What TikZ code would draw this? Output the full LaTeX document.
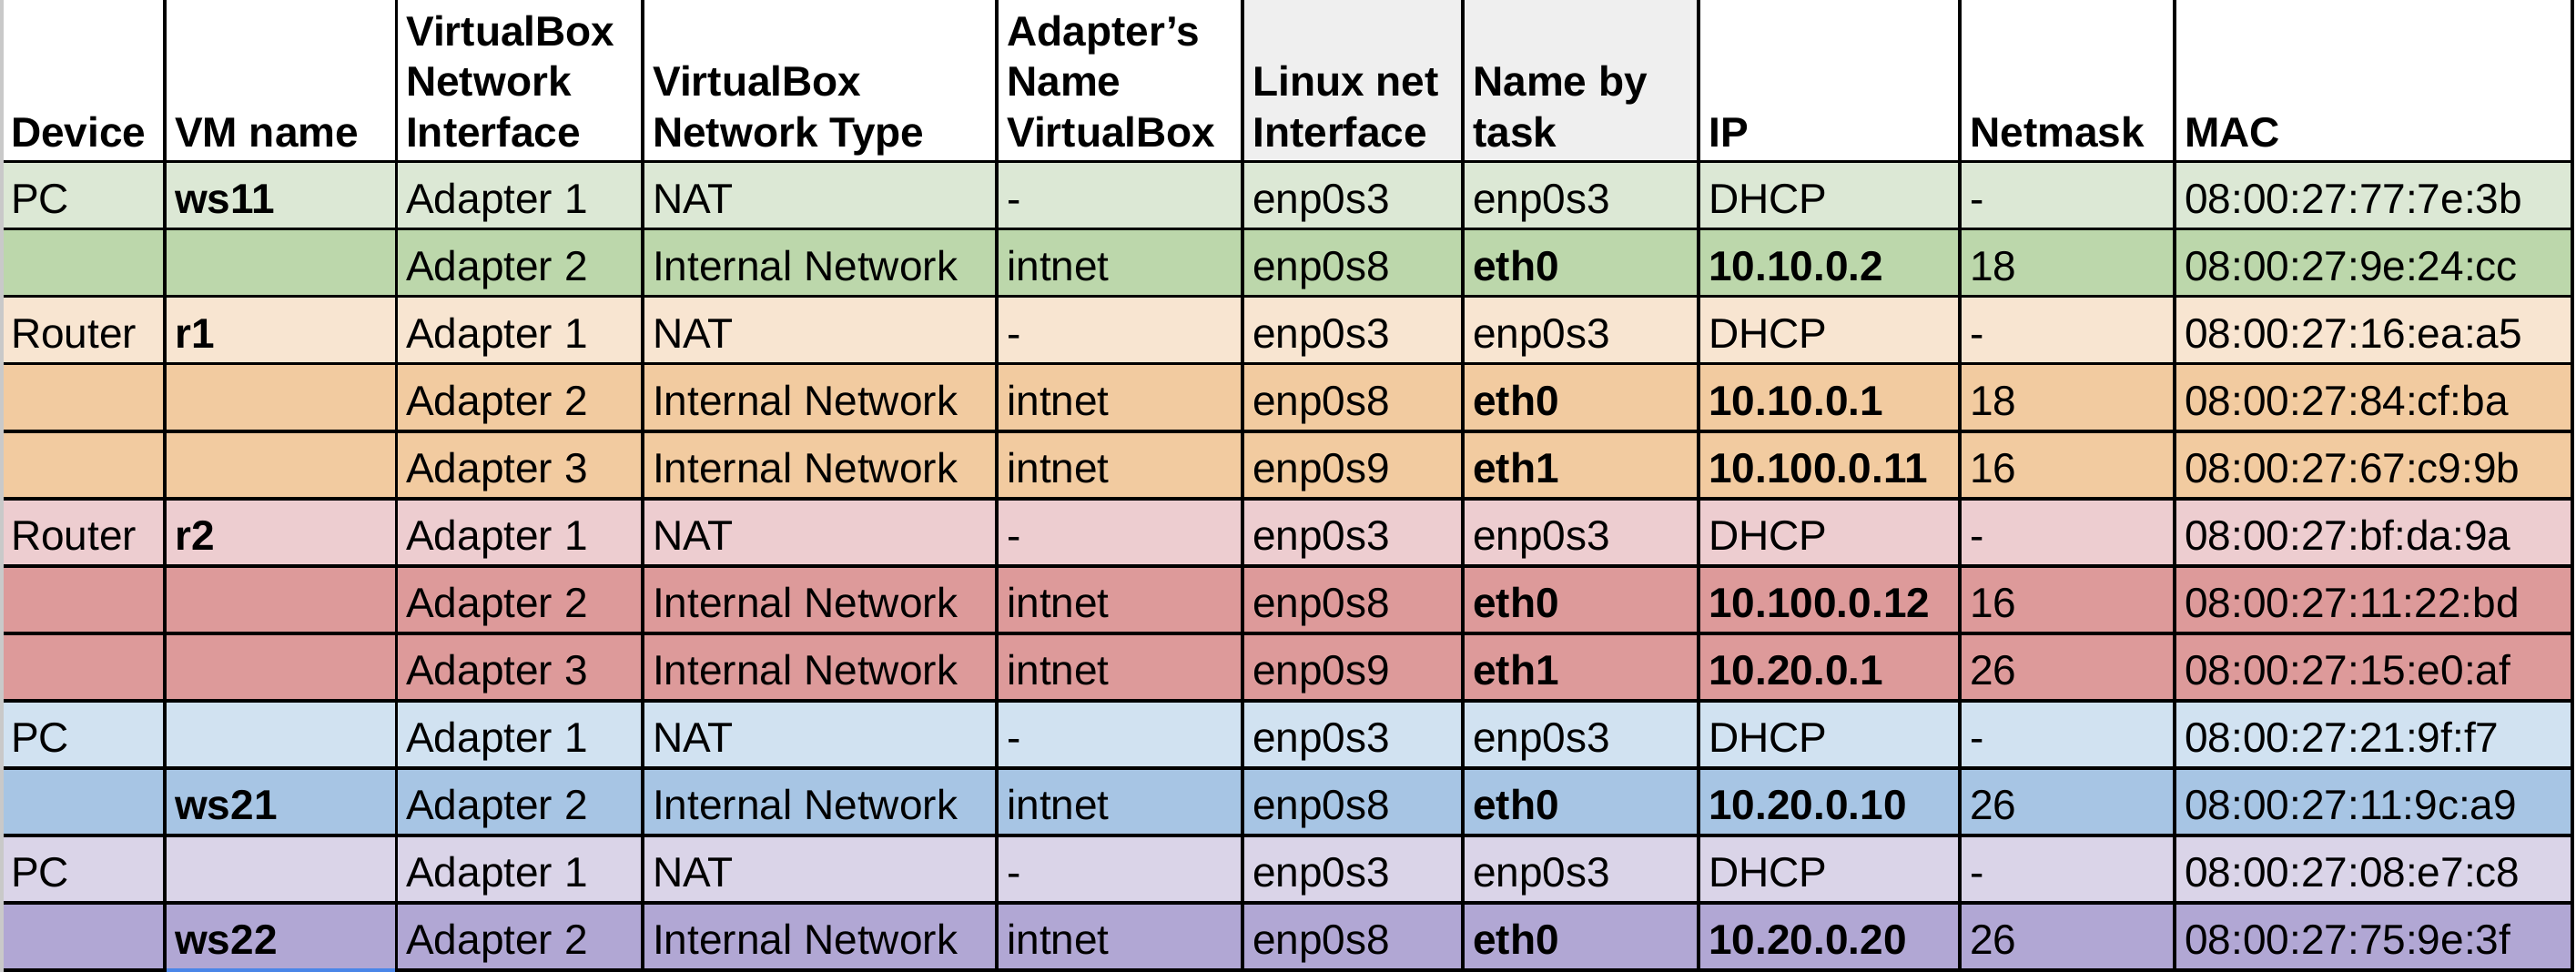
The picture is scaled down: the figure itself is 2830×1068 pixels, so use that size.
\documentclass[tikz,border=0pt]{standalone}
\usepackage{fontspec}
\setmainfont{Liberation Sans}
\definecolor{gL}{HTML}{DCE8D5}
\definecolor{gD}{HTML}{BCD7AB}
\definecolor{oL}{HTML}{F8E5D1}
\definecolor{oD}{HTML}{F2CBA0}
\definecolor{rL}{HTML}{EDCDD0}
\definecolor{rD}{HTML}{DD9A9A}
\definecolor{bL}{HTML}{D1E2F1}
\definecolor{bD}{HTML}{A7C5E4}
\definecolor{pL}{HTML}{DAD4E8}
\definecolor{pD}{HTML}{B1A7D4}
\definecolor{hdrgray}{HTML}{EFEFEF}
\definecolor{stripgray}{HTML}{C9C9C9}
\definecolor{selblue}{HTML}{4A86E8}
\newcommand\cellt[4]{\node[txt] (#1) at (#2,{177.7+74.03*#3-17.5}) {#4};}
\newcommand\hdrstack[1]{\bfseries\begin{tabular}[b]{@{}l@{}}#1\end{tabular}}
\begin{document}
\begin{tikzpicture}[x=1pt,y=-1pt,
  txt/.style={anchor=base west, inner sep=0pt, font=\fontsize{46}{55.5}\selectfont},
  hgrid/.style={line width=3.4pt, black},
  vgrid/.style={line width=3.9pt, black}]
\useasboundingbox (0,0) rectangle (2830,1068);
\fill[white] (0,0) rectangle (2830,1068);
% header gray
\fill[hdrgray] (1365,0) rectangle (1866,177.7);
% row fills
\foreach \i/\c in {1/gL,2/gD,3/oL,4/oD,5/oD,6/rL,7/rD,8/rD,9/bL,10/bD,11/pL,12/pD}
  \fill[\c] (4,{177.7+74.03*(\i-1)}) rectangle (2826,{177.7+74.03*\i});
% left strip
\fill[stripgray] (0,0) rectangle (4,1068);
% grid
\foreach \i in {0,...,12}
  \draw[hgrid] (4,{177.7+74.03*\i}) -- (2828,{177.7+74.03*\i});
\foreach \x in {181,435.5,706,1095,1365,1607,1866,2153,2389,2826}
  \draw[vgrid] (\x,0) -- (\x,1068);
\draw[line width=3.4pt, selblue] (183,1066.06) -- (433.5,1066.06);
% header
\node[txt] (hA) at (12,161) {\textbf{Device}};
\node[txt] (hB) at (192,161) {\textbf{VM name}};
\node[txt] (hC) at (446,161) {\hdrstack{VirtualBox\\Network\\Interface}};
\node[txt] (hD) at (717,161) {\hdrstack{VirtualBox\\Network Type}};
\node[txt] (hE) at (1106,161) {\hdrstack{Adapter’s\\Name\\VirtualBox}};
\node[txt] (hF) at (1376,161) {\hdrstack{Linux net\\Interface}};
\node[txt] (hG) at (1618,161) {\hdrstack{Name by\\task}};
\node[txt] (hH) at (1877,161) {\textbf{IP}};
\node[txt] (hI) at (2164,161) {\textbf{Netmask}};
\node[txt] (hJ) at (2400,161) {\textbf{MAC}};
% row 1
\cellt{r1a}{12}{1}{PC}
\cellt{r1b}{192}{1}{\textbf{ws11}}
\cellt{r1c}{446}{1}{Adapter 1}
\cellt{r1d}{717}{1}{NAT}
\cellt{r1e}{1106}{1}{-}
\cellt{r1f}{1376}{1}{enp0s3}
\cellt{r1g}{1618}{1}{enp0s3}
\cellt{r1h}{1877}{1}{DHCP}
\cellt{r1i}{2164}{1}{-}
\cellt{r1j}{2400}{1}{08:00:27:77:7e:3b}
% row 2
\cellt{r2c}{446}{2}{Adapter 2}
\cellt{r2d}{717}{2}{Internal Network}
\cellt{r2e}{1106}{2}{intnet}
\cellt{r2f}{1376}{2}{enp0s8}
\cellt{r2g}{1618}{2}{\textbf{eth0}}
\cellt{r2h}{1877}{2}{\textbf{10.10.0.2}}
\cellt{r2i}{2164}{2}{18}
\cellt{r2j}{2400}{2}{08:00:27:9e:24:cc}
% row 3
\cellt{r3a}{12}{3}{Router}
\cellt{r3b}{192}{3}{\textbf{r1}}
\cellt{r3c}{446}{3}{Adapter 1}
\cellt{r3d}{717}{3}{NAT}
\cellt{r3e}{1106}{3}{-}
\cellt{r3f}{1376}{3}{enp0s3}
\cellt{r3g}{1618}{3}{enp0s3}
\cellt{r3h}{1877}{3}{DHCP}
\cellt{r3i}{2164}{3}{-}
\cellt{r3j}{2400}{3}{08:00:27:16:ea:a5}
% row 4
\cellt{r4c}{446}{4}{Adapter 2}
\cellt{r4d}{717}{4}{Internal Network}
\cellt{r4e}{1106}{4}{intnet}
\cellt{r4f}{1376}{4}{enp0s8}
\cellt{r4g}{1618}{4}{\textbf{eth0}}
\cellt{r4h}{1877}{4}{\textbf{10.10.0.1}}
\cellt{r4i}{2164}{4}{18}
\cellt{r4j}{2400}{4}{08:00:27:84:cf:ba}
% row 5
\cellt{r5c}{446}{5}{Adapter 3}
\cellt{r5d}{717}{5}{Internal Network}
\cellt{r5e}{1106}{5}{intnet}
\cellt{r5f}{1376}{5}{enp0s9}
\cellt{r5g}{1618}{5}{\textbf{eth1}}
\cellt{r5h}{1877}{5}{\textbf{10.100.0.11}}
\cellt{r5i}{2164}{5}{16}
\cellt{r5j}{2400}{5}{08:00:27:67:c9:9b}
% row 6
\cellt{r6a}{12}{6}{Router}
\cellt{r6b}{192}{6}{\textbf{r2}}
\cellt{r6c}{446}{6}{Adapter 1}
\cellt{r6d}{717}{6}{NAT}
\cellt{r6e}{1106}{6}{-}
\cellt{r6f}{1376}{6}{enp0s3}
\cellt{r6g}{1618}{6}{enp0s3}
\cellt{r6h}{1877}{6}{DHCP}
\cellt{r6i}{2164}{6}{-}
\cellt{r6j}{2400}{6}{08:00:27:bf:da:9a}
% row 7
\cellt{r7c}{446}{7}{Adapter 2}
\cellt{r7d}{717}{7}{Internal Network}
\cellt{r7e}{1106}{7}{intnet}
\cellt{r7f}{1376}{7}{enp0s8}
\cellt{r7g}{1618}{7}{\textbf{eth0}}
\cellt{r7h}{1877}{7}{\textbf{10.100.0.12}}
\cellt{r7i}{2164}{7}{16}
\cellt{r7j}{2400}{7}{08:00:27:11:22:bd}
% row 8
\cellt{r8c}{446}{8}{Adapter 3}
\cellt{r8d}{717}{8}{Internal Network}
\cellt{r8e}{1106}{8}{intnet}
\cellt{r8f}{1376}{8}{enp0s9}
\cellt{r8g}{1618}{8}{\textbf{eth1}}
\cellt{r8h}{1877}{8}{\textbf{10.20.0.1}}
\cellt{r8i}{2164}{8}{26}
\cellt{r8j}{2400}{8}{08:00:27:15:e0:af}
% row 9
\cellt{r9a}{12}{9}{PC}
\cellt{r9c}{446}{9}{Adapter 1}
\cellt{r9d}{717}{9}{NAT}
\cellt{r9e}{1106}{9}{-}
\cellt{r9f}{1376}{9}{enp0s3}
\cellt{r9g}{1618}{9}{enp0s3}
\cellt{r9h}{1877}{9}{DHCP}
\cellt{r9i}{2164}{9}{-}
\cellt{r9j}{2400}{9}{08:00:27:21:9f:f7}
% row 10
\cellt{r10b}{192}{10}{\textbf{ws21}}
\cellt{r10c}{446}{10}{Adapter 2}
\cellt{r10d}{717}{10}{Internal Network}
\cellt{r10e}{1106}{10}{intnet}
\cellt{r10f}{1376}{10}{enp0s8}
\cellt{r10g}{1618}{10}{\textbf{eth0}}
\cellt{r10h}{1877}{10}{\textbf{10.20.0.10}}
\cellt{r10i}{2164}{10}{26}
\cellt{r10j}{2400}{10}{08:00:27:11:9c:a9}
% row 11
\cellt{r11a}{12}{11}{PC}
\cellt{r11c}{446}{11}{Adapter 1}
\cellt{r11d}{717}{11}{NAT}
\cellt{r11e}{1106}{11}{-}
\cellt{r11f}{1376}{11}{enp0s3}
\cellt{r11g}{1618}{11}{enp0s3}
\cellt{r11h}{1877}{11}{DHCP}
\cellt{r11i}{2164}{11}{-}
\cellt{r11j}{2400}{11}{08:00:27:08:e7:c8}
% row 12
\cellt{r12b}{192}{12}{\textbf{ws22}}
\cellt{r12c}{446}{12}{Adapter 2}
\cellt{r12d}{717}{12}{Internal Network}
\cellt{r12e}{1106}{12}{intnet}
\cellt{r12f}{1376}{12}{enp0s8}
\cellt{r12g}{1618}{12}{\textbf{eth0}}
\cellt{r12h}{1877}{12}{\textbf{10.20.0.20}}
\cellt{r12i}{2164}{12}{26}
\cellt{r12j}{2400}{12}{08:00:27:75:9e:3f}
\end{tikzpicture}
\end{document}
